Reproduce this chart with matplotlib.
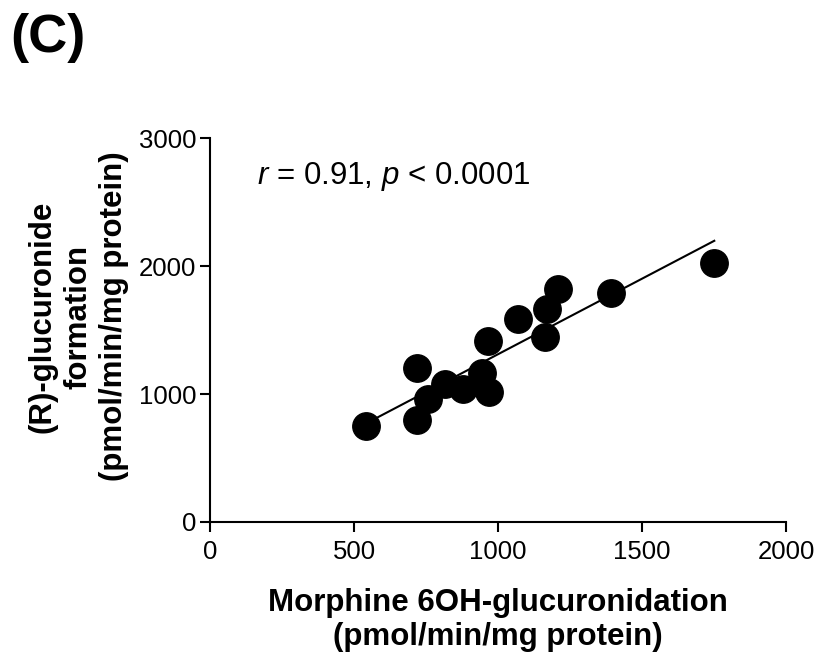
import matplotlib.pyplot as plt
import numpy as np

plt.rcParams['font.family'] = ['Liberation Sans', 'DejaVu Sans']
plt.rcParams['mathtext.fontset'] = 'custom'
plt.rcParams['mathtext.rm'] = 'Liberation Sans'
plt.rcParams['mathtext.it'] = 'Liberation Sans:italic'

# values
morphine_6oh = [542, 718, 720, 758, 816, 877, 946, 969, 966, 1071, 1163, 1171, 1210, 1391, 1751]
r_glucuronide = [752, 797, 1205, 958, 1078, 1039, 1161, 1016, 1414, 1583, 1448, 1661, 1818, 1786, 2026]
x_ticks = [0, 500, 1000, 1500, 2000]
y_ticks = [0, 1000, 2000, 3000]

fig = plt.figure(figsize=(8.19, 6.52), dpi=100)
ax = fig.add_axes([0.2564, 0.1994, 0.7033, 0.5889])

x = np.array(morphine_6oh)
y = np.array(r_glucuronide)
slope, icpt = np.polyfit(x, y, 1)
xl = np.array([x.min(), x.max()])
ax.plot(xl, slope * xl + icpt, color='black', lw=1.5, zorder=2)
ax.scatter(x, y, s=390, color='black', zorder=3, clip_on=False)

ax.set_xlim(0, 2000)
ax.set_ylim(0, 3000)
ax.set_xticks(x_ticks)
ax.set_yticks(y_ticks)
ax.spines['top'].set_visible(False)
ax.spines['right'].set_visible(False)
ax.spines['left'].set_linewidth(1.5)
ax.spines['bottom'].set_linewidth(1.5)
ax.tick_params(direction='out', length=7, width=1.5, labelsize=18.5)
ax.tick_params(axis='x', pad=6)
ax.tick_params(axis='y', pad=3)

ax.set_xlabel('Morphine 6OH-glucuronidation\n(pmol/min/mg protein)',
              fontsize=22.5, fontweight='bold', labelpad=17, linespacing=1.2)
ax.set_ylabel('(R)-glucuronide\nformation\n(pmol/min/mg protein)',
              fontsize=22.5, fontweight='bold', linespacing=1.25)
ax.yaxis.set_label_coords(-0.14, 0.535)

ax.text(0.082, 0.9, r'$\it{r}$ = 0.91, $\it{p}$ < 0.0001', transform=ax.transAxes,
        fontsize=22.5, va='center', ha='left')

fig.text(0.012, 0.942, '(C)', fontsize=39, fontweight='bold', va='center', ha='left')

fig.savefig('out.png', dpi=100)
